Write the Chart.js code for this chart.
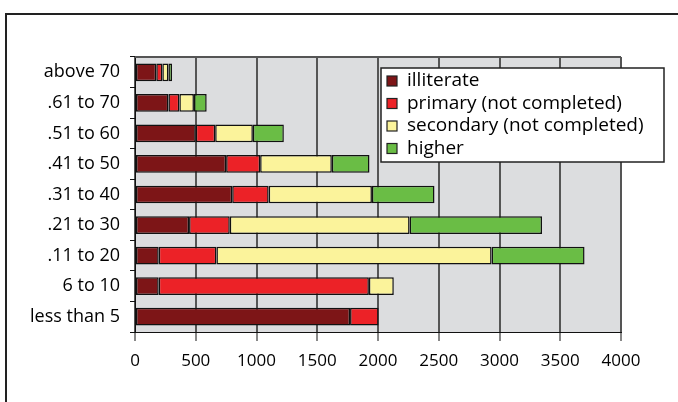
<!DOCTYPE html>
<html>
<head>
<meta charset="utf-8">
<script src="https://cdn.jsdelivr.net/npm/chart.js@4/dist/chart.umd.min.js"></script>
<style>
    html, body { margin: 0; padding: 0; background: #fff; }
    #wrap { position: relative; width: 678px; height: 402px; overflow: hidden; }
    #frame { position: absolute; left: 5px; top: 13px; width: 700px; height: 420px; border: 2px solid #222; box-sizing: border-box; }
    canvas { position: absolute; left: 0; top: 0; }
</style>
</head>
<body>
<div id="wrap">
    <div id="frame"></div>
    <canvas id="chart" width="678" height="402"></canvas>
</div>
<script>
// Age groups, top to bottom
const ageGroups = ['above 70', '.61 to 70', '.51 to 60', '.41 to 50', '.31 to 40', '.21 to 30', '.11 to 20', '6 to 10', 'less than 5'];

// Education level counts
const illiterate = [175, 275, 500, 750, 800, 445, 195, 195, 1770];
const primary    = [50, 90, 160, 280, 300, 335, 475, 1730, 235];
const secondary  = [50, 120, 310, 590, 850, 1480, 2265, 205, 0];
const higher     = [30, 105, 255, 310, 515, 1090, 765, 0, 0];

const xTicks = [0, 500, 1000, 1500, 2000, 2500, 3000, 3500, 4000];

const FONT = '"Open Sans", sans-serif';

// grey plot background + top border
const plotBackground = {
    id: 'plotBackground',
    beforeDraw(chart) {
        const { ctx, chartArea: a } = chart;
        ctx.save();
        ctx.fillStyle = '#dcdddf';
        ctx.fillRect(a.left, a.top, a.right - a.left, a.bottom - a.top);
        ctx.restore();
    },
    afterDatasetsDraw(chart) {
        const { ctx, chartArea: a } = chart;
        ctx.save();
        ctx.strokeStyle = '#555';
        ctx.lineWidth = 2;
        ctx.beginPath();
        ctx.moveTo(a.left, a.top);
        ctx.lineTo(a.right, a.top);
        ctx.stroke();
        ctx.restore();
    }
};

// boxed legend sitting inside the plot
const boxLegend = {
    id: 'boxLegend',
    afterDraw(chart) {
        const ctx = chart.ctx;
        const x = 381, y = 68, w = 283, h = 94;
        ctx.save();
        ctx.fillStyle = '#fff';
        ctx.fillRect(x, y, w, h);
        ctx.strokeStyle = '#222';
        ctx.lineWidth = 1.5;
        ctx.strokeRect(x, y, w, h);
        ctx.font = '19px ' + FONT;
        ctx.textBaseline = 'middle';
        chart.data.datasets.forEach((ds, i) => {
            const cy = y + 13 + i * 22.5;
            ctx.fillStyle = ds.backgroundColor;
            ctx.fillRect(x + 6, cy - 5, 10, 10);
            ctx.strokeStyle = '#222';
            ctx.lineWidth = 1.2;
            ctx.strokeRect(x + 6, cy - 5, 10, 10);
            ctx.fillStyle = '#000';
            ctx.fillText(ds.label, x + 26, cy);
        });
        ctx.restore();
    }
};

const makeSet = (label, data, color) => ({
    label: label,
    data: data,
    backgroundColor: color,
    borderColor: '#111',
    borderWidth: 1.5,
    borderSkipped: false,
    barPercentage: 0.58,
    categoryPercentage: 1
});

new Chart(document.getElementById('chart'), {
    type: 'bar',
    data: {
        labels: ageGroups,
        datasets: [
            makeSet('illiterate', illiterate, '#7d1517'),
            makeSet('primary (not completed)', primary, '#ec2227'),
            makeSet('secondary (not completed)', secondary, '#fbf39b'),
            makeSet('higher', higher, '#6abd45')
        ]
    },
    options: {
        indexAxis: 'y',
        responsive: false,
        animation: false,
        layout: { padding: { top: 57, right: 57, left: 0, bottom: 0 } },
        plugins: {
            legend: { display: false },
            tooltip: { enabled: false }
        },
        scales: {
            x: {
                stacked: true,
                min: 0,
                max: 4000,
                afterBuildTicks: axis => { axis.ticks = xTicks.map(v => ({ value: v })); },
                afterFit: axis => { axis.height = 70; },
                grid: { color: '#555', lineWidth: 2, tickColor: '#111', tickLength: 9, tickWidth: 1 },
                border: { color: '#111', width: 1 },
                ticks: {
                    color: '#000', font: { family: FONT, size: 17 }, padding: 10, maxRotation: 0,
                    callback: v => String(v)
                }
            },
            y: {
                stacked: true,
                offset: true,
                afterFit: axis => { axis.width = 135; },
                grid: { offset: true, drawOnChartArea: false, tickColor: '#111', tickLength: 5 },
                border: { color: '#111', width: 1 },
                ticks: { color: '#000', font: { family: FONT, size: 18 }, padding: 10 }
            }
        }
    },
    plugins: [plotBackground, boxLegend]
});
</script>
</body>
</html>
